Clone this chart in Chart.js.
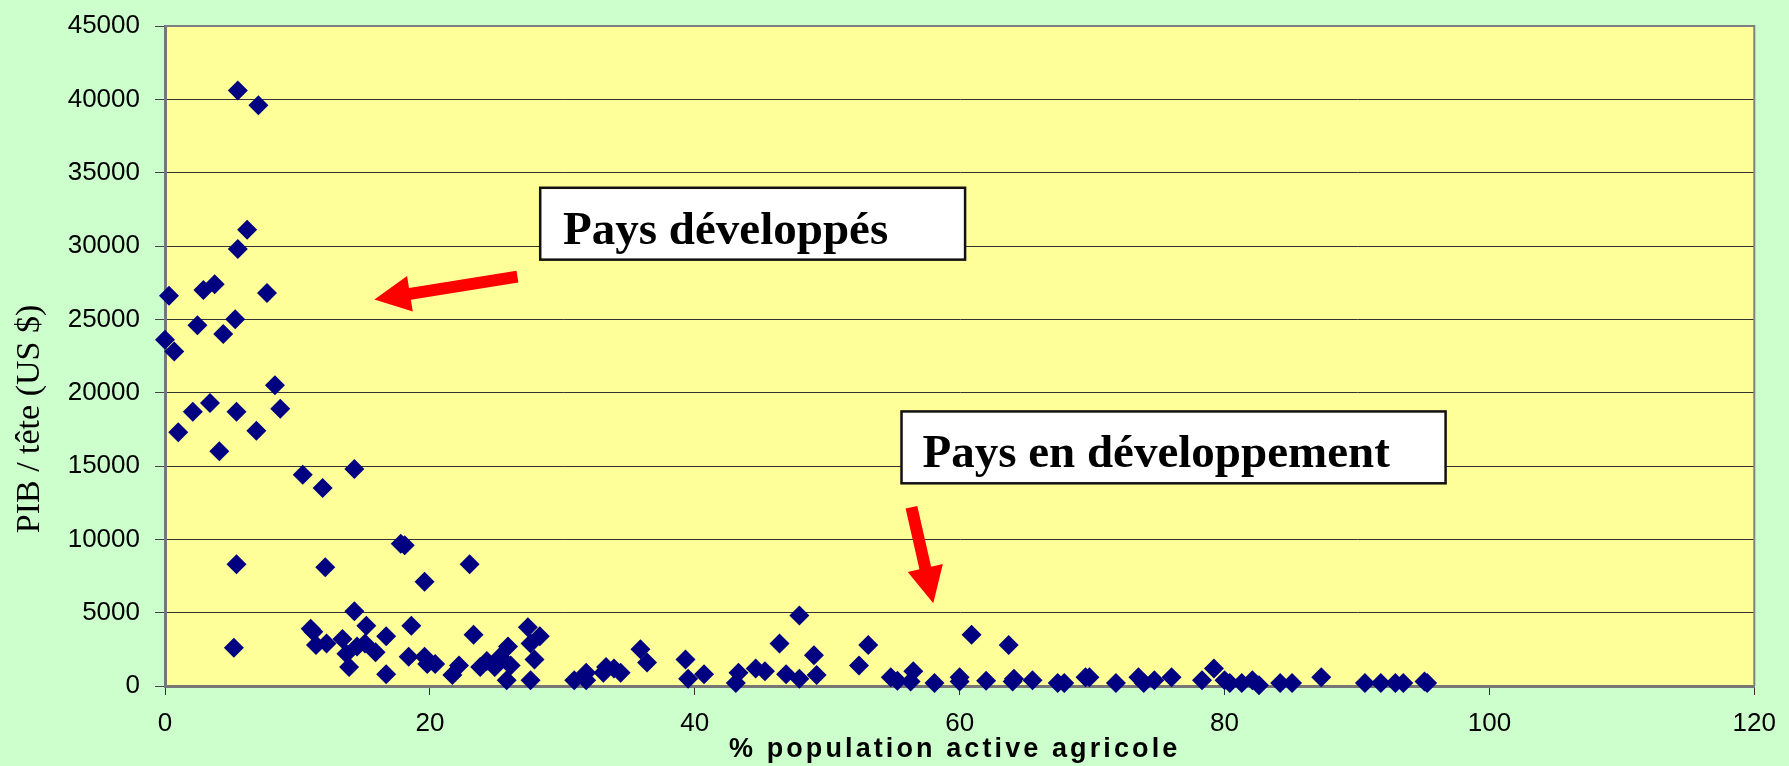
<!DOCTYPE html>
<html>
<head>
<meta charset="utf-8">
<script src="https://cdn.jsdelivr.net/npm/chart.js@4.4.1/dist/chart.umd.min.js"></script>
<style>
  html, body { margin: 0; padding: 0; background: #ccffcc; }
  canvas { display: block; }
</style>
</head>
<body>
<canvas id="scatter" width="1789" height="766"></canvas>
<script>
// % population active agricole
const agriShare = [
  0, 0.3, 0.7, 1.0, 2.1, 2.45, 2.9, 3.4, 3.75, 4.1, 4.4, 5.3, 5.4, 5.5, 5.5, 6.2, 6.9, 7.05, 7.7, 8.3, 8.7,
  10.4, 11.9, 14.3, 5.4, 12.1, 5.2, 17.8, 18.1, 19.6, 23.0, 14.3,
  11.0, 11.2, 11.4, 12.2, 13.4, 13.7, 13.9, 14.5, 15.2, 15.1, 15.9, 16.7, 16.7,
  18.6, 18.4, 19.6, 19.8, 20.4, 21.7, 22.2, 23.3, 23.8, 24.3, 24.9, 25.3, 25.9, 25.8, 26.1,
  27.4, 27.6, 28.3, 27.9, 27.6,
  30.9, 31.8, 31.8, 33.1, 33.3, 33.9, 34.4, 35.9, 36.4, 39.3, 39.5, 40.7,
  43.1, 43.3, 44.6, 45.3, 46.4, 46.9, 47.9, 47.9, 49.0, 49.2,
  52.4, 53.1, 54.8, 55.3, 56.5, 56.3, 58.1, 60.0, 60.0, 60.9, 62.0, 63.7, 64.0, 64.1, 65.5,
  67.4, 67.9, 69.5, 69.8, 71.8, 73.5, 73.9, 74.7, 76.0, 78.3, 79.2,
  80.0, 80.4, 81.3, 82.1, 82.6, 84.2, 85.1, 87.3, 90.6, 91.8, 92.9, 93.5, 95.1, 95.3
]
// PIB / tête (US $)
const gdpPerHead = [
  23600, 26600, 22800, 17300, 18700, 24600, 27000, 19300, 27400, 16000, 24000, 25000, 18700, 29800, 40600, 31100, 17400, 39600, 26800, 20500, 18900,
  14400, 13500, 14800, 8300, 8100, 2600, 9700, 9600, 7100, 8300, 5100,
  3900, 3700, 2800, 2900, 3200, 2200, 1300, 2700, 4100, 2900, 2300, 3400, 800,
  4100, 2000, 2000, 1500, 1500, 750, 1400, 3500, 1300, 1700, 1300, 2000, 2700, 400, 1400,
  4000, 2900, 3400, 1800, 400,
  400, 400, 900, 900, 1300, 1200, 900, 2500, 1600, 1800, 500, 800,
  200, 900, 1200, 1000, 2900, 800, 4800, 500, 2100, 750,
  1400, 2800, 600, 350, 1000, 300, 200, 600, 300, 3500, 350, 2800, 300, 500, 400,
  200, 200, 600, 600, 200, 600, 200, 400, 600, 400, 1200,
  400, 200, 200, 400, 50, 200, 200, 600, 200, 200, 200, 200, 300, 200
]
const xTicks = [0, 20, 40, 60, 80, 100, 120]
const yTicks = [0, 5000, 10000, 15000, 20000, 25000, 30000, 35000, 40000, 45000]

const xTitle = "% population active agricole"
const yTitle = "PIB / tête (US $)"

// annotations, placed in data units
const labels = [
  { text: "Pays développés", x1: 28.33, x2: 60.41, y1: 33970, y2: 29070, tx: 30.06, ty: 30160 },
  { text: "Pays en développement", x1: 55.61, x2: 96.69, y1: 18720, y2: 13820, tx: 57.19, ty: 14910 }
]
const arrows = [
  { fromX: 26.61, fromY: 27910, toX: 15.81, toY: 26350 },
  { fromX: 56.36, fromY: 12190, toX: 58.01, toY: 5650 }
]

const points = agriShare.map((x, i) => ({ x: x, y: gdpPerHead[i] }))

const drawArrow = (ctx, x1, y1, x2, y2) => {
    const shaft = 12, headW = 36, headL = 36
    const ang = Math.atan2(y2 - y1, x2 - x1)
    const len = Math.hypot(x2 - x1, y2 - y1)
    ctx.save()
    ctx.translate(x1, y1)
    ctx.rotate(ang)
    ctx.beginPath()
    ctx.moveTo(0, -shaft / 2)
    ctx.lineTo(len - headL, -shaft / 2)
    ctx.lineTo(len - headL, -headW / 2)
    ctx.lineTo(len, 0)
    ctx.lineTo(len - headL, headW / 2)
    ctx.lineTo(len - headL, shaft / 2)
    ctx.lineTo(0, shaft / 2)
    ctx.closePath()
    ctx.fillStyle = "#ff0000"
    ctx.fill()
    ctx.restore()
}

const decor = {
    id: "decor",
    beforeDraw(chart) {
        const { ctx, chartArea: a } = chart
        ctx.save()
        ctx.fillStyle = "#ccffcc"
        ctx.fillRect(0, 0, chart.width, chart.height)
        ctx.fillStyle = "#ffff99"
        ctx.fillRect(a.left, a.top, a.right - a.left, a.bottom - a.top)
        ctx.restore()
    },
    afterDraw(chart) {
        const { ctx, chartArea: a } = chart
        const xs = chart.scales.x
        const ys = chart.scales.y
        ctx.save()

        // plot frame (top and right)
        ctx.strokeStyle = "#808080"
        ctx.lineWidth = 2
        ctx.beginPath()
        ctx.moveTo(a.left, a.top)
        ctx.lineTo(a.right, a.top)
        ctx.lineTo(a.right, a.bottom)
        ctx.stroke()

        arrows.forEach(ar => {
            drawArrow(ctx, xs.getPixelForValue(ar.fromX), ys.getPixelForValue(ar.fromY),
                xs.getPixelForValue(ar.toX), ys.getPixelForValue(ar.toY))
        })

        labels.forEach(lb => {
            const l = xs.getPixelForValue(lb.x1)
            const r = xs.getPixelForValue(lb.x2)
            const t = ys.getPixelForValue(lb.y1)
            const b = ys.getPixelForValue(lb.y2)
            ctx.fillStyle = "#ffffff"
            ctx.fillRect(l, t, r - l, b - t)
            ctx.strokeStyle = "#111111"
            ctx.lineWidth = 2.5
            ctx.strokeRect(l, t, r - l, b - t)
            ctx.fillStyle = "#000000"
            ctx.font = "bold 47px 'Liberation Serif', 'Times New Roman', serif"
            ctx.textAlign = "left"
            ctx.textBaseline = "alphabetic"
            ctx.fillText(lb.text, xs.getPixelForValue(lb.tx), ys.getPixelForValue(lb.ty))
        })

        // axis titles
        ctx.fillStyle = "#000000"
        ctx.font = "bold 27px 'Liberation Sans', Arial, sans-serif"
        ctx.letterSpacing = "3.1px"
        ctx.textAlign = "center"
        ctx.textBaseline = "middle"
        ctx.fillText(xTitle, (a.left + a.right) / 2 - 5, 750)
        ctx.letterSpacing = "0px"

        ctx.translate(30, 419)
        ctx.rotate(-Math.PI / 2)
        ctx.font = "34px 'Liberation Serif', 'Times New Roman', serif"
        ctx.fillText(yTitle, 0, 0)
        ctx.restore()
    }
}

const tickFont = { family: "'Liberation Sans', Arial, sans-serif", size: 26 }

new Chart(document.querySelector("#scatter"), {
    type: "scatter",
    data: {
        datasets: [{
            data: points,
            pointStyle: "rectRot",
            pointRadius: 10,
            pointHoverRadius: 10,
            backgroundColor: "#000080",
            borderColor: "#000080",
            borderWidth: 0,
            clip: false
        }]
    },
    options: {
        responsive: false,
        animation: false,
        devicePixelRatio: 1,
        layout: { padding: { top: 26, right: 23, left: 0, bottom: 0 } },
        plugins: {
            legend: { display: false },
            tooltip: { enabled: false }
        },
        scales: {
            x: {
                type: "linear",
                min: 0,
                max: 120,
                afterFit: s => { s.height = 80 },
                afterBuildTicks: s => { s.ticks = xTicks.map(v => ({ value: v })) },
                ticks: { color: "#000", font: tickFont, padding: 13, callback: v => String(v) },
                grid: { drawOnChartArea: false, tickLength: 9, tickColor: "#333", lineWidth: 1 },
                border: { color: "#777", width: 3 }
            },
            y: {
                min: 0,
                max: 45000,
                // fixed axis width, and no extra top padding from the labels
                afterFit: s => { s.width = 165; s.paddingTop = 0; s.paddingBottom = 0 },
                afterBuildTicks: s => { s.ticks = yTicks.map(v => ({ value: v })) },
                ticks: { color: "#000", font: tickFont, padding: 15, callback: v => String(v) },
                grid: { color: "#333", lineWidth: 1, tickLength: 10, tickColor: "#444" },
                border: { color: "#777", width: 3 }
            }
        }
    },
    plugins: [decor]
})
</script>
</body>
</html>
